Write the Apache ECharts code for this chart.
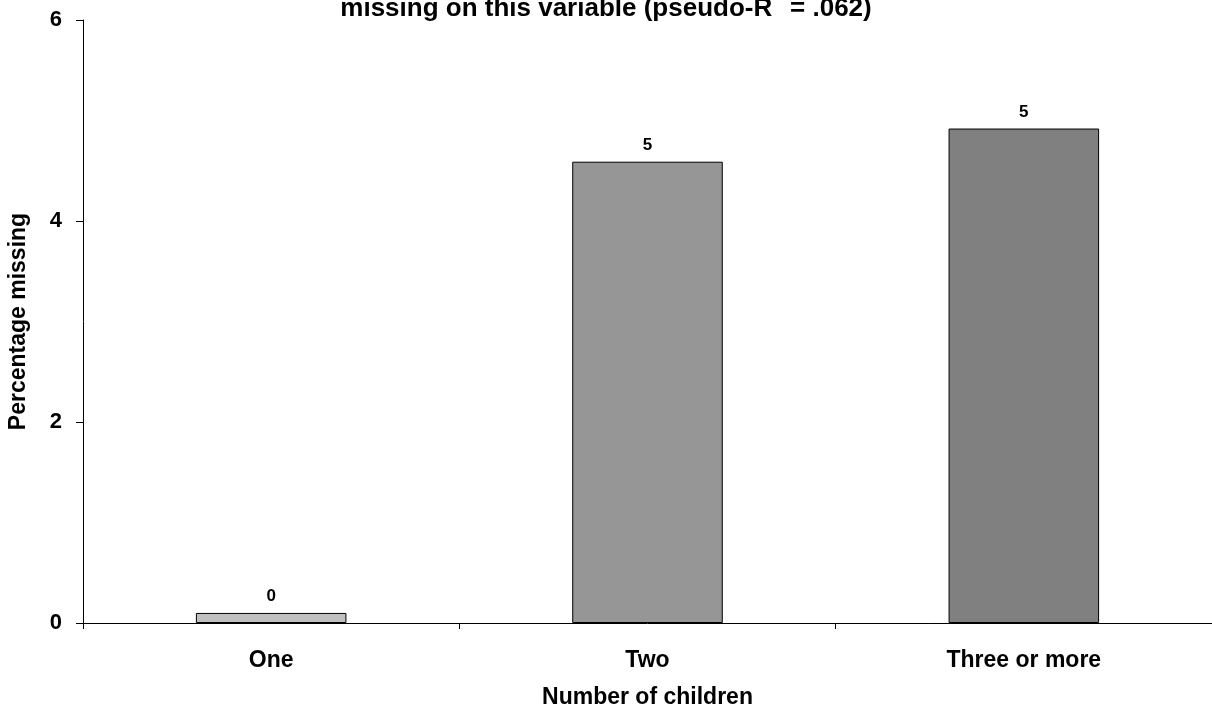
<!DOCTYPE html>
<html>
<head>
<meta charset="utf-8">
<script src="https://cdn.jsdelivr.net/npm/echarts@6/dist/echarts.min.js"></script>
<style>html,body{margin:0;padding:0;background:#fff}#c{width:1212px;height:710px}</style>
</head>
<body>
<div id="c"></div>
<script>
const categories = ["One", "Two", "Three or more"];
const values = [0.1, 4.59, 4.92];
const barLabels = ["0", "5", "5"];
const barColors = ["#c0c0c0", "#969696", "#808080"];
const yTicks = [0, 2, 4, 6];

const chart = echarts.init(document.getElementById('c'), null, {renderer: 'canvas'});
const font = 'Arial, "Liberation Sans", sans-serif';
chart.setOption({
  animation: false,
  backgroundColor: '#fff',
  title: {
    text: '{a|missing on this variable (pseudo-R}{s|2  }{a|= .062)}',
    left: 'center',
    top: -33,
    textStyle: {
      rich: {
        a: {fontFamily: font, fontWeight: 'bold', fontSize: 26, color: '#000', lineHeight: 30, verticalAlign: 'bottom'},
        s: {fontFamily: font, fontWeight: 'bold', fontSize: 16, color: '#000', lineHeight: 50, verticalAlign: 'top'}
      }
    }
  },
  grid: {left: 83, right: 0, top: 20, bottom: 87, outerBoundsMode: 'none', containLabel: false},
  xAxis: {
    type: 'category',
    data: categories,
    name: 'Number of children',
    nameLocation: 'middle',
    nameGap: 63,
    nameTextStyle: {fontFamily: font, fontWeight: 'bold', fontSize: 23, color: '#000'},
    axisLine: {lineStyle: {color: '#000', width: 1}},
    axisTick: {show: true, alignWithLabel: false, length: 6, lineStyle: {color: '#000'}},
    axisLabel: {fontFamily: font, fontWeight: 'bold', fontSize: 23, color: '#000', margin: 26}
  },
  yAxis: {
    type: 'value',
    min: 0, max: 6, interval: 2,
    name: 'Percentage missing',
    nameLocation: 'middle',
    nameGap: 53,
    nameRotate: 90,
    nameTextStyle: {fontFamily: font, fontWeight: 'bold', fontSize: 23, color: '#000'},
    axisLine: {show: true, lineStyle: {color: '#000', width: 1}},
    axisTick: {show: true, length: 7, lineStyle: {color: '#000'}},
    splitLine: {show: false},
    axisLabel: {fontFamily: font, fontWeight: 'bold', fontSize: 22, color: '#000', margin: 21,
      formatter: v => yTicks.includes(v) ? String(v) : ''}
  },
  series: [{
    type: 'bar',
    barWidth: '40%',
    data: values.map((v, i) => ({value: v, itemStyle: {color: barColors[i]}})),
    itemStyle: {borderColor: '#000', borderWidth: 1},
    label: {
      show: true, position: 'top', distance: 8,
      fontFamily: font, fontWeight: 'bold', fontSize: 17, color: '#000',
      formatter: p => barLabels[p.dataIndex]
    }
  }]
});
</script>
</body>
</html>
